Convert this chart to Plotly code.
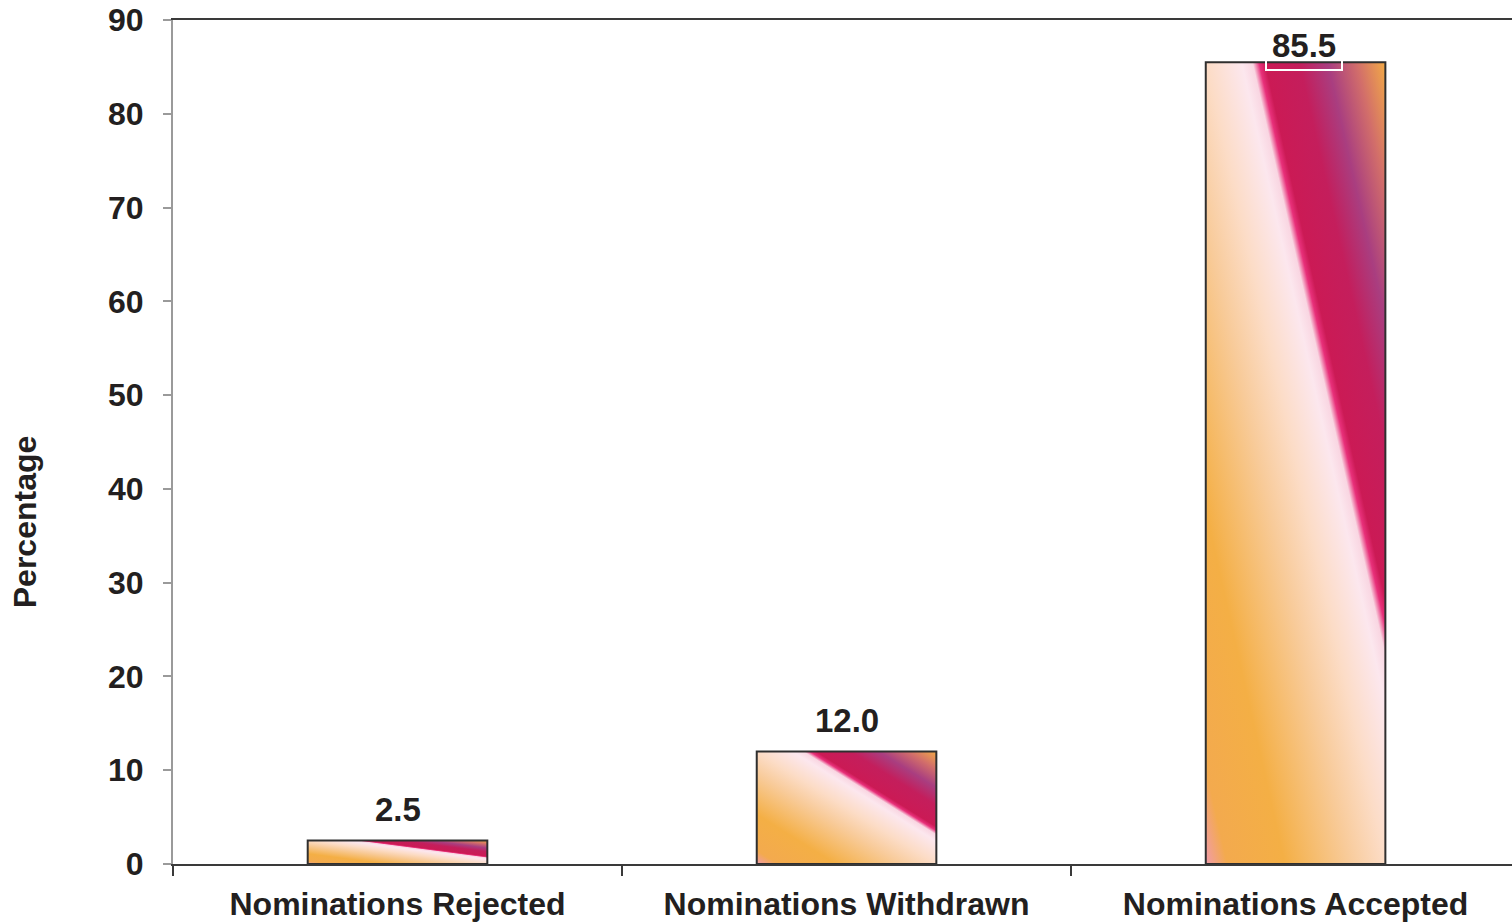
import base64

import plotly.graph_objects as go

categories = ["Nominations Rejected", "Nominations Withdrawn", "Nominations Accepted"]
percentages = [2.5, 12.0, 85.5]
value_labels = ["2.5", "12.0", "85.5"]
y_ticks = [0, 10, 20, 30, 40, 50, 60, 70, 80, 90]

TEXT_COLOR = "#231F20"
FONT = "Liberation Sans, Arial, sans-serif"
BAR_WIDTH = 0.4
# label offsets in px (top label is pushed down and right, as in the source)
LABEL_SHIFT = [31, 31, 17]
LABEL_XSHIFT = [0, 0, 8]

# diagonal gradient (bottom-left -> top-right), in the bar's own box
GRADIENT_STOPS = [
    (0.00, "#F19BAA"),
    (0.06, "#F3AA4E"),
    (0.22, "#F4AF45"),
    (0.40, "#F8CB9A"),
    (0.50, "#FCDCC6"),
    (0.60, "#FCE7EE"),
    (0.630, "#F9D6E2"),
    (0.648, "#E8307A"),
    (0.665, "#CB1A55"),
    (0.76, "#C41E5C"),
    (0.84, "#A93E80"),
    (0.92, "#D26E6A"),
    (1.00, "#F2AA46"),
]


def gradient_uri() -> str:
    """Build a stretched SVG gradient as a data URI"""
    stops = "".join(
        f'<stop offset="{o}" stop-color="{c}"/>' for o, c in GRADIENT_STOPS
    )
    svg = (
        '<svg xmlns="http://www.w3.org/2000/svg" width="100" height="100" '
        'viewBox="0 0 100 100" preserveAspectRatio="none">'
        '<defs><linearGradient id="g" x1="0" y1="1" x2="1" y2="0">'
        f"{stops}</linearGradient></defs>"
        '<rect width="100" height="100" fill="url(#g)"/></svg>'
    )
    return "data:image/svg+xml;base64," + base64.b64encode(svg.encode()).decode()


fig = go.Figure()

fig.add_trace(go.Bar(
    x=categories,
    y=percentages,
    width=BAR_WIDTH,
    marker=dict(color="rgba(0,0,0,0)", line=dict(color="#2F2F2F", width=2)),
    hoverinfo="x+y",
    showlegend=False,
))

src = gradient_uri()
for i, v in enumerate(percentages):
    fig.add_layout_image(dict(
        source=src,
        xref="x", yref="y",
        x=i - BAR_WIDTH / 2, y=v,
        sizex=BAR_WIDTH, sizey=v,
        xanchor="left", yanchor="top",
        sizing="stretch",
        layer="below",
    ))
    fig.add_annotation(
        x=categories[i], y=v,
        text=value_labels[i],
        showarrow=False,
        yanchor="middle",
        yshift=LABEL_SHIFT[i],
        xshift=LABEL_XSHIFT[i],
        font=dict(size=33, color=TEXT_COLOR, family=FONT, weight="bold"),
        bordercolor="white",
        borderwidth=2,
        borderpad=5,
    )

fig.add_annotation(
    text="Percentage",
    xref="paper", yref="paper",
    x=-0.1105, y=0.405,
    xanchor="center", yanchor="middle",
    textangle=-90,
    showarrow=False,
    font=dict(size=32, color=TEXT_COLOR, family=FONT, weight="bold"),
)

fig.update_layout(
    width=1512,
    height=923,
    margin=dict(l=173, r=0, t=20, b=59),
    paper_bgcolor="white",
    plot_bgcolor="rgba(0,0,0,0)",
    font=dict(family=FONT, size=32, color=TEXT_COLOR, weight="bold"),
    xaxis=dict(
        # the source's plot area runs a little past the right edge
        range=[-0.5, 2.482],
        showline=True,
        linecolor="#3A3A3A",
        linewidth=2,
        mirror=True,
        ticks="outside",
        tickson="boundaries",
        ticklen=10,
        tickwidth=1.5,
        tickcolor="#3A3A3A",
        showgrid=False,
        zeroline=False,
        ticklabelstandoff=11,
        automargin=False,
    ),
    yaxis=dict(
        range=[0, 90],
        tickvals=y_ticks,
        showline=True,
        linecolor="#9A9A9A",
        linewidth=2,
        ticks="outside",
        ticklen=8,
        tickwidth=1.5,
        tickcolor="#9A9A9A",
        showgrid=False,
        zeroline=False,
        ticklabelstandoff=13,
        ticklabeloverflow="allow",
        automargin=False,
    ),
)

# drop the default page margin so the figure fills the window exactly
fig.write_html(
    "out.html",
    config={"displayModeBar": False},
    post_script="document.body.style.margin = '0';",
)
